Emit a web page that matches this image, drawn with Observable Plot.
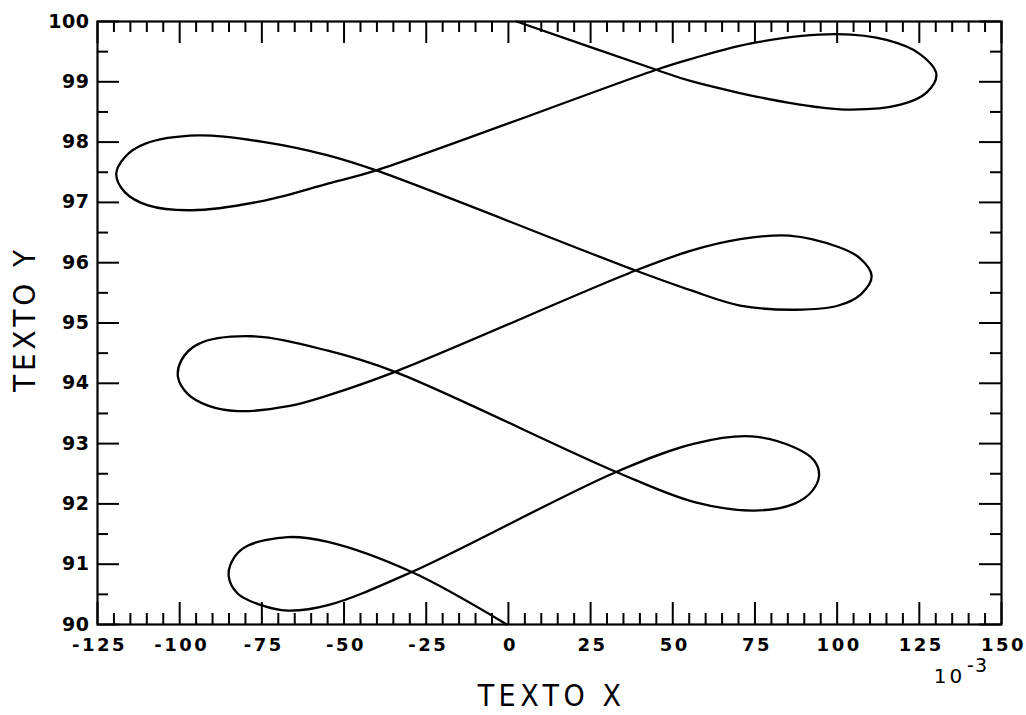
<!DOCTYPE html>
<html><head><meta charset="utf-8">
<script src="https://cdn.jsdelivr.net/npm/d3@7"></script>
<script src="https://cdn.jsdelivr.net/npm/@observablehq/plot@0.6"></script>
<style>body{margin:0;background:#fff}</style>
</head><body><div id="chart"></div>
<script>
const xDomain = [-125, 150];
const yDomain = [90, 100];
const xMajor = [-125, -100, -75, -50, -25, 0, 25, 50, 75, 100, 125, 150];
const yMajor = [90, 91, 92, 93, 94, 95, 96, 97, 98, 99, 100];
const xMinor = d3.range(-125, 151, 5).filter(v => !xMajor.includes(v));
const yMinor = [90.5, 91.5, 92.5, 93.5, 94.5, 95.5, 96.5, 97.5, 98.5, 99.5];
const xTitle = "TEXTO X";
const yTitle = "TEXTO Y";
const expBase = "10";
const expPow = "-3";

// trajectory (x in units of 10^-3), in drawing order
const pathX = [-0.5, -29.4, -54.9, -67.1, -79.2, -83.3, -85.1, -82.3, -75.2, -67.1, -54.9, -29.4,
  32.8, 56.6, 73.8, 86.9, 93, 94.5, 92.5, 86.9, 74.8, 56.6, 32.8,
  -34.5, -54.9, -78.2, -94.4, -99.5, -100.5, -97.5, -91.4, -82.3, -67, -54.9, -34.5,
  38.7, 55.6, 70.5, 85.4, 100.4, 106.8, 110.5, 107.3, 100.4, 87.4, 70.5, 55.6, 38.7,
  -40.2, -54.9, -74.2, -94.4, -110.6, -116.7, -119.3, -116.7, -109.6, -96.5, -74.2, -54.9, -40.2,
  45, 55.6, 75, 100, 115.3, 125.2, 130.2, 127.2, 119.3, 102.4, 85.4, 55.6, 45, 2.5];
const pathY = [90, 90.87, 91.37, 91.45, 91.31, 91.12, 90.81, 90.51, 90.32, 90.23, 90.32, 90.87,
  92.53, 93.0, 93.12, 92.94, 92.72, 92.47, 92.22, 92.0, 91.89, 92.03, 92.53,
  94.19, 94.54, 94.78, 94.65, 94.38, 94.10, 93.82, 93.63, 93.54, 93.62, 93.80, 94.19,
  95.87, 96.20, 96.39, 96.45, 96.26, 96.08, 95.78, 95.48, 95.29, 95.22, 95.29, 95.54, 95.87,
  97.53, 97.78, 98.0, 98.11, 97.97, 97.75, 97.47, 97.17, 96.95, 96.87, 97.03, 97.31, 97.53,
  99.2, 99.38, 99.65, 99.79, 99.69, 99.46, 99.12, 98.82, 98.62, 98.54, 98.65, 99.01, 99.2, 100];

const points = pathX.map((x, i) => ({x, y: pathY[i]}));

const W = 1026, H = 715;
const mL = 97, mR = 25, mT = 21, mB = 91;
const fw = W - mL - mR, fh = H - mT - mB;
const majorLen = 22, minorLen = 11;
const font = "DejaVu Sans, sans-serif";
const titleFont = "DejaVu Sans Condensed, DejaVu Sans, sans-serif";
const ink = "#000";

const chart = Plot.plot({
  width: W, height: H,
  marginLeft: mL, marginRight: mR, marginTop: mT, marginBottom: mB,
  x: {domain: xDomain, axis: null},
  y: {domain: yDomain, axis: null},
  style: {fontFamily: font, background: "#fff", overflow: "visible"},
  marks: [
    Plot.tickX(xMajor, {x: d => d, insetTop: fh - majorLen, stroke: ink, strokeWidth: 2}),
    Plot.tickX(xMinor, {x: d => d, insetTop: fh - minorLen, stroke: ink, strokeWidth: 2}),
    Plot.tickX(xMajor, {x: d => d, insetBottom: fh - majorLen, stroke: ink, strokeWidth: 2}),
    Plot.tickX(xMinor, {x: d => d, insetBottom: fh - minorLen, stroke: ink, strokeWidth: 2}),
    Plot.tickY(yMajor, {y: d => d, insetRight: fw - majorLen, stroke: ink, strokeWidth: 2}),
    Plot.tickY(yMinor, {y: d => d, insetRight: fw - minorLen, stroke: ink, strokeWidth: 2}),
    Plot.tickY(yMajor, {y: d => d, insetLeft: fw - majorLen, stroke: ink, strokeWidth: 2}),
    Plot.tickY(yMinor, {y: d => d, insetLeft: fw - minorLen, stroke: ink, strokeWidth: 2}),
    Plot.frame({stroke: ink, strokeWidth: 2.2}),
    Plot.line(points, {x: "x", y: "y", curve: "catmull-rom", stroke: ink, strokeWidth: 2.3}),
    Plot.text(xMajor, {x: d => d, y: yDomain[0], dy: 21, dx: 2, text: d => String(d), fontSize: 18, fontWeight: "bold", fill: ink}),
    Plot.text(yMajor, {x: xDomain[0], y: d => d, dx: -8, text: d => String(d), textAnchor: "end", fontSize: 19, fontWeight: "bold", fill: ink}),
    Plot.text([expBase], {x: xDomain[1], y: yDomain[0], dx: -52, dy: 52, text: d => d, fontSize: 20, fill: ink}),
    Plot.text([expPow], {x: xDomain[1], y: yDomain[0], dx: -24, dy: 41, text: d => d, fontSize: 19, fill: ink}),
    Plot.text([xTitle], {frameAnchor: "bottom", lineAnchor: "middle", textAnchor: "middle", dy: 72, dx: 2, text: d => d, fontSize: 30, fontFamily: titleFont, fill: ink}),
    Plot.text([yTitle], {frameAnchor: "left", lineAnchor: "middle", textAnchor: "middle", dx: -72, dy: -4, rotate: -90, text: d => d, fontSize: 31, fontFamily: titleFont, fill: ink})
  ]
});

// letter spacing per text mark (in mark order)
const spacing = ["2.5px", "0.5px", "3px", "1px", "4.5px", "4px"];
const parents = [];
chart.querySelectorAll("text").forEach(t => {
  if (!parents.includes(t.parentNode)) parents.push(t.parentNode);
});
parents.forEach((g, i) => {
  g.querySelectorAll("text").forEach(t => t.setAttribute("letter-spacing", spacing[i] || "0px"));
});
document.getElementById("chart").appendChild(chart);
</script>
</body></html>
